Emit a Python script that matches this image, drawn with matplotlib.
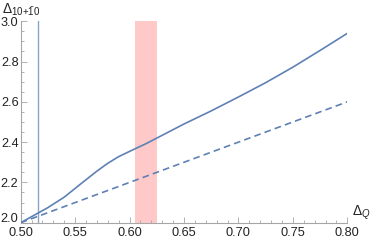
import numpy as np
import matplotlib
matplotlib.use("Agg")
import matplotlib.pyplot as plt
from matplotlib.ticker import MultipleLocator, FormatStrFormatter, FuncFormatter

plt.rcParams['font.family'] = ['Liberation Sans', 'DejaVu Sans']
plt.rcParams['mathtext.fontset'] = 'custom'
plt.rcParams['mathtext.rm'] = 'Liberation Sans'
plt.rcParams['mathtext.it'] = 'Liberation Sans:italic'

# données
delta_q = [0.50, 0.525, 0.54, 0.555, 0.57, 0.58, 0.59, 0.60, 0.615, 0.625,
           0.65, 0.675, 0.70, 0.725, 0.75, 0.775, 0.80]
delta_10 = [2.00, 2.075, 2.127, 2.192, 2.256, 2.295, 2.328, 2.354, 2.392, 2.42,
            2.49, 2.555, 2.624, 2.695, 2.772, 2.855, 2.94]
# borne libre : 2*dQ + 1
dq_libre = [0.50, 0.80]
d10_libre = [2.00, 2.60]
# ligne verticale et bande
x_borne = 0.5155
bande = (0.605, 0.625)

bleu = '#5E81B5'
gris = '#A6A6A6'
noir = '#222222'
taille = 9.2

fig = plt.figure(figsize=(3.74, 2.40), dpi=100)
ax = fig.add_axes([0.0553, 0.072, 0.8733, 0.8395])

ax.axvspan(bande[0], bande[1], ymin=0, ymax=1, color='#FFC9C9', lw=0, zorder=1)
ax.plot([x_borne, x_borne], [2.0, 3.0], color='#8AA3CC', lw=1.0, zorder=2)
ax.plot(delta_q, delta_10, color=bleu, lw=1.2, zorder=3)
ax.plot(dq_libre, d10_libre, color=bleu, lw=1.2, ls=(0, (4, 2.5)), zorder=3)

ax.set_xlim(0.50, 0.80)
ax.set_ylim(2.0, 3.0)

# style des axes
for s in ['top', 'right']:
    ax.spines[s].set_visible(False)
for s in ['left', 'bottom']:
    ax.spines[s].set_color(gris)
    ax.spines[s].set_linewidth(0.8)

ax.xaxis.set_major_locator(MultipleLocator(0.05))
ax.xaxis.set_minor_locator(MultipleLocator(0.01))
ax.yaxis.set_major_locator(MultipleLocator(0.2))
ax.yaxis.set_minor_locator(MultipleLocator(0.05))
ax.xaxis.set_major_formatter(FormatStrFormatter('%.2f'))
# le "2.0" est posé à part, un peu plus haut
ax.yaxis.set_major_formatter(FuncFormatter(lambda v, p: '' if abs(v - 2.0) < 1e-6 else '%.1f' % v))
ax.tick_params(which='both', direction='in', color=gris, width=0.6,
               labelsize=taille, labelcolor=noir)
ax.tick_params(axis='x', pad=2.8)
ax.tick_params(axis='y', pad=1.5)
ax.tick_params(which='major', length=4)
ax.tick_params(which='minor', length=2)
ax.patch.set_alpha(0)

ax.annotate('2.0', xy=(0.50, 2.0), xycoords='data', xytext=(-1.5, 2.5),
            textcoords='offset points', ha='right', va='center',
            fontsize=taille, color=noir, annotation_clip=False)

fig.text(0.005, 0.925, r'$\Delta_{10{+}\bar{1}0}$', fontsize=10, color=noir,
         ha='left', va='bottom')
fig.text(0.940, 0.075, r'$\Delta_{Q}$', fontsize=10, color=noir,
         ha='left', va='bottom')

fig.savefig('out.png', dpi=100)
